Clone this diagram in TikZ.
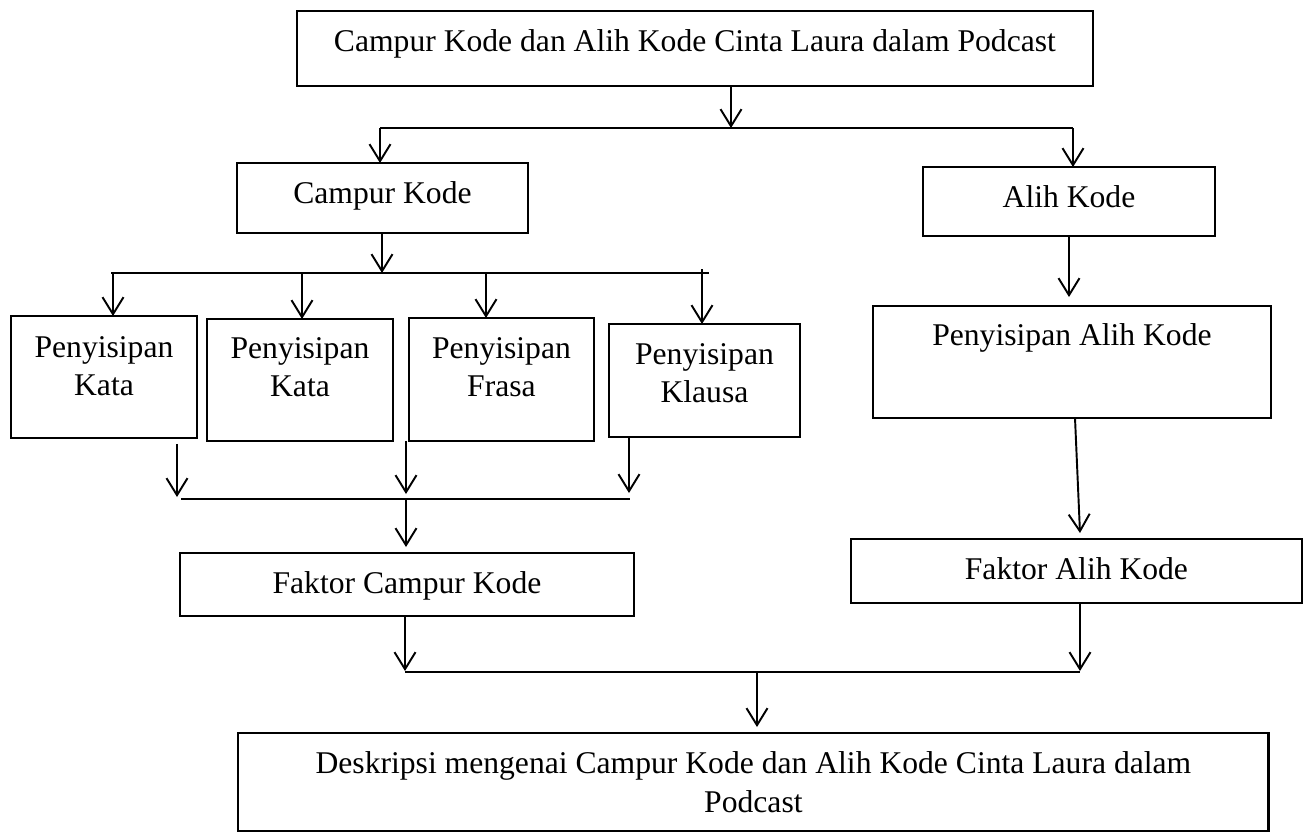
\documentclass[tikz,border=0pt]{standalone}
\usepackage{fontspec}
\setmainfont{Liberation Serif}
\usetikzlibrary{arrows.meta}
\begin{document}
\begin{tikzpicture}[x=0.02cm,y=-0.02cm,
  box/.style={draw,line width=1.5pt,inner sep=0pt,outer sep=0pt,anchor=north west,
    align=center,font=\fontsize{18pt}{22pt}\selectfont},
  ln/.style={line width=1.1pt},
  arr/.style={ln,-{Straight Barb[length=0.34cm,width=0.42cm]}}]
\useasboundingbox (0,0) rectangle (1312,833);
% boxes
\node[box,minimum width=15.92cm,text height=0.82cm,text depth=0.68cm] (top) at (297,11)
  {Campur Kode dan Alih Kode Cinta Laura dalam Podcast};
\node[box,minimum width=5.82cm,text height=0.80cm,text depth=0.60cm] (ck) at (237,163) {Campur Kode};
\node[box,minimum width=5.84cm,text height=0.80cm,text depth=0.58cm] (ak) at (923,167) {Alih Kode};
\node[box,minimum width=3.72cm,text height=1.60cm,text depth=0.84cm] (p1) at (11,316) {Penyisipan\\Kata};
\node[box,minimum width=3.72cm,text height=1.56cm,text depth=0.88cm] (p2) at (207,319) {Penyisipan\\Kata};
\node[box,minimum width=3.70cm,text height=1.58cm,text depth=0.88cm] (p3) at (409,318) {Penyisipan\\Frasa};
\node[box,minimum width=3.82cm,text height=1.58cm,text depth=0.68cm] (p4) at (609,324) {Penyisipan\\Klausa};
\node[box,minimum width=7.96cm,text height=0.78cm,text depth=1.46cm] (pak) at (873,306) {Penyisipan Alih Kode};
\node[box,minimum width=9.08cm,text height=0.80cm,text depth=0.46cm] (fck) at (180,553) {Faktor Campur Kode};
\node[box,minimum width=9.02cm,text height=0.80cm,text depth=0.48cm] (fak) at (851,539) {Faktor Alih Kode};
\node[box,minimum width=20.62cm,text height=1.58cm,text depth=0.38cm] (desc) at (238,733)
  {Deskripsi mengenai Campur Kode dan Alih Kode Cinta Laura dalam\\Podcast};
% junction coordinates
\coordinate (a1) at (731,128);
\coordinate (b1) at (380,128);
\coordinate (b2) at (1073,128);
\coordinate (c0) at (382,273);
\coordinate (c1) at (111,273);
\coordinate (c2) at (709,273);
\coordinate (d1) at (113,273);
\coordinate (d2) at (302,272);
\coordinate (d3) at (486,273);
\coordinate (d4) at (702,269);
\coordinate (e1) at (177,497);
\coordinate (e2) at (406,494);
\coordinate (e3) at (629,493);
\coordinate (g1) at (181,499);
\coordinate (g2) at (630,499);
\coordinate (g0) at (406,499);
\coordinate (k1) at (1069,236);
\coordinate (k2) at (1075,418);
\coordinate (k3) at (1080,533);
\coordinate (m1) at (405,672);
\coordinate (m2) at (1080,672);
\coordinate (m0) at (757,672);
% connectors
\draw[arr] (top.south -| a1) -- (a1);
\draw[ln] (b1) -- (b2);
\draw[arr] (b1) -- (b1 |- ck.north);
\draw[arr] (b2) -- (b2 |- ak.north);
\draw[arr] (ck.south -| c0) -- (c0);
\draw[ln] (c1) -- (c2);
\draw[arr] (d1) -- (d1 |- p1.north);
\draw[arr] (d2) -- (d2 |- p2.north);
\draw[arr] (d3) -- (d3 |- p3.north);
\draw[arr] (d4) -- (d4 |- p4.north);
\draw[arr,shorten <=0.12cm] (p1.south -| e1) -- (e1);
\draw[arr] (p2.south -| e2) -- (e2);
\draw[arr] (p4.south -| e3) -- (e3);
\draw[ln] (g1) -- (g2);
\draw[arr,shorten >=0.12cm] (g0) -- (g0 |- fck.north);
\draw[arr,shorten >=0.18cm] (ak.south -| k1) -- (k1 |- pak.north);
\draw[arr] (pak.south -| k2) -- (k3);
\draw[arr] (fck.south -| m1) -- ([yshift=0.02cm]m1);
\draw[arr] (fak.south -| m2) -- ([yshift=0.02cm]m2);
\draw[ln] (m1) -- (m2);
\draw[arr,shorten >=0.12cm] (m0) -- (m0 |- desc.north);
\end{tikzpicture}
\end{document}
